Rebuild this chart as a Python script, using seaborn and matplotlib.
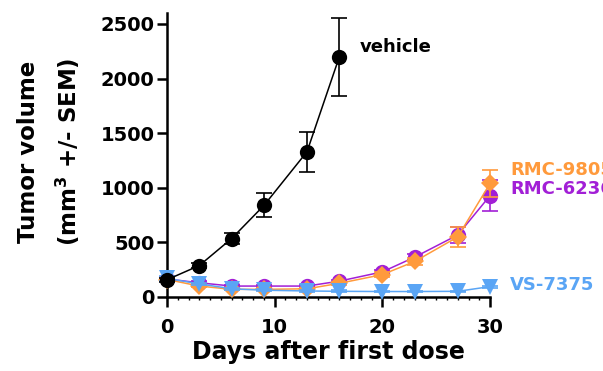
import numpy as np
import pandas as pd
import matplotlib
matplotlib.use("Agg")
import matplotlib.pyplot as plt
import seaborn as sns
from matplotlib.ticker import MultipleLocator

days = [0, 3, 6, 9, 13, 16, 20, 23, 27, 30]
vehicle_days = [0, 3, 6, 9, 13, 16]
vehicle = [158, 288, 535, 838, 1330, 2198]
vehicle_sem = [20, 25, 50, 110, 185, 360]
rmc9805 = [160, 100, 70, 70, 75, 125, 205, 325, 550, 1040]
rmc9805_sem = [15, 12, 10, 10, 10, 12, 20, 30, 90, 125]
rmc6236 = [165, 130, 100, 100, 100, 145, 230, 365, 568, 928]
rmc6236_sem = [15, 12, 10, 10, 10, 12, 20, 30, 75, 140]
vs7375 = [170, 120, 75, 62, 55, 52, 50, 50, 52, 95]
vs7375_sem = [25, 12, 10, 8, 8, 8, 6, 6, 6, 10]

groups = ["vehicle", "RMC-9805", "RMC-6236", "VS-7375"]
colors = {"vehicle": "#000000", "RMC-9805": "#FF9A3C",
          "RMC-6236": "#A21FD6", "VS-7375": "#5AA5F5"}
markers = {"vehicle": "o", "RMC-9805": "D", "RMC-6236": "o", "VS-7375": "v"}
msizes = {"vehicle": 11, "RMC-9805": 9.5, "RMC-6236": 11, "VS-7375": 11}

series = {
    "vehicle": (vehicle_days, vehicle, vehicle_sem),
    "RMC-9805": (days, rmc9805, rmc9805_sem),
    "RMC-6236": (days, rmc6236, rmc6236_sem),
    "VS-7375": (days, vs7375, vs7375_sem),
}

rows = []
for g in groups:
    d, v, s = series[g]
    for a, b, c in zip(d, v, s):
        rows.append({"group": g, "day": a, "vol": b, "err": c})
df = pd.DataFrame(rows)

sns.set_style("ticks")
plt.rcParams["font.family"] = ["DejaVu Sans"]
plt.rcParams["font.weight"] = "bold"
plt.rcParams["text.color"] = "black"
plt.rcParams["axes.labelcolor"] = "black"
plt.rcParams["mathtext.fontset"] = "custom"
plt.rcParams["mathtext.rm"] = "DejaVu Sans:bold"
plt.rcParams["mathtext.default"] = "rm"

fig = plt.figure(figsize=(6.03, 3.71), dpi=100)
ax = fig.add_axes([0.277, 0.1995, 0.5357, 0.7655])

draw_order = ["RMC-6236", "RMC-9805", "VS-7375", "vehicle"]
for z, g in enumerate(draw_order):
    sub = df[df["group"] == g]
    ax.errorbar(sub["day"], sub["vol"], yerr=sub["err"], fmt="none", ecolor=colors[g],
                elinewidth=1.2, capsize=6, capthick=1.2, zorder=2 + 2 * z, clip_on=False)
    sns.lineplot(data=sub, x="day", y="vol", ax=ax, color=colors[g],
                 marker=markers[g], markersize=msizes[g], markeredgewidth=0,
                 linewidth=1.1, zorder=3 + 2 * z, clip_on=False, legend=False,
                 errorbar=None)

ax.set_xlim(0, 30)
ax.set_ylim(0, 2600)
ax.set_xticks([0, 10, 20, 30])
ax.xaxis.set_minor_locator(MultipleLocator(1))
ax.set_yticks([0, 500, 1000, 1500, 2000, 2500])
ax.tick_params(axis="both", which="major", direction="out", length=7, width=1.8,
               labelsize=14, color="black", labelcolor="black", pad=2)
ax.tick_params(axis="x", which="major", pad=8)
ax.tick_params(axis="x", which="minor", direction="out", length=2.5, width=1.0, color="black")
for lab in ax.get_xticklabels() + ax.get_yticklabels():
    lab.set_fontweight("bold")
for side in ["left", "bottom"]:
    ax.spines[side].set_linewidth(1.8)
    ax.spines[side].set_color("black")
sns.despine(ax=ax)

ax.set_xlabel("Days after first dose", fontsize=17, fontweight="bold", labelpad=2)
ax.set_ylabel("Tumor volume\n(mm$^{3}$ +/- SEM)", fontsize=16.5, fontweight="bold",
              linespacing=1.6, va="center", ha="center")
ax.yaxis.set_label_coords(-0.365, 0.51)

ax.text(17.9, 2290, "vehicle", color=colors["vehicle"], fontsize=13,
        fontweight="bold", va="center", ha="left")
ax.text(31.85, 1167, "RMC-9805", color=colors["RMC-9805"], fontsize=13,
        fontweight="bold", va="center", ha="left", clip_on=False)
ax.text(31.85, 985, "RMC-6236", color=colors["RMC-6236"], fontsize=13,
        fontweight="bold", va="center", ha="left", clip_on=False)
ax.text(31.85, 110, "VS-7375", color=colors["VS-7375"], fontsize=13,
        fontweight="bold", va="center", ha="left", clip_on=False)

fig.savefig("out.png", dpi=100)
